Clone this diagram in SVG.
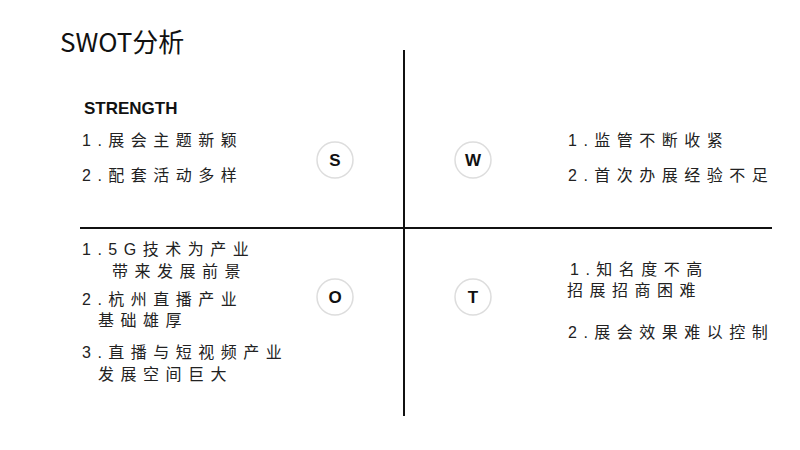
<svg xmlns="http://www.w3.org/2000/svg" width="800" height="450" viewBox="0 0 800 450">
<style>
.t{font-family:"Liberation Sans","Noto Sans CJK SC",sans-serif;font-size:16px;fill:#222;letter-spacing:6.5px}
.c{fill:#fff;stroke:#ddd;stroke-width:1.5}
.l{font-family:"Liberation Sans",sans-serif;font-size:17px;font-weight:bold;fill:#111;text-anchor:middle}
</style>
<rect width="800" height="450" fill="#fff"/>
<text x="60" y="52" font-family="'Noto Sans CJK SC',sans-serif" font-size="26" fill="#111">SWOT分析</text>
<g id="connectors" stroke="#111" stroke-width="2">
<line x1="404" y1="50" x2="404" y2="416"/>
<line x1="80" y1="228" x2="772" y2="228"/>
</g>
<g id="S"><text x="84" y="114" font-family="'Liberation Sans',sans-serif" font-size="17" font-weight="bold" fill="#111">STRENGTH</text>
<text class="t" x="82" y="146">1.展会主题新颖</text><text class="t" x="82" y="181">2.配套活动多样</text>
<circle class="c" cx="335" cy="160" r="18"/><text class="l" x="335" y="166">S</text></g>
<g id="W"><text class="t" x="568" y="146">1.监管不断收紧</text><text class="t" x="568" y="181">2.首次办展经验不足</text>
<circle class="c" cx="473" cy="160" r="18"/><text class="l" x="473" y="166">W</text></g>
<g id="O"><text class="t" x="82" y="255">1.5G技术为产业</text><text class="t" x="112" y="277">带来发展前景</text>
<text class="t" x="82" y="305">2.杭州直播产业</text><text class="t" x="98" y="326">基础雄厚</text>
<text class="t" x="82" y="358">3.直播与短视频产业</text><text class="t" x="98" y="380">发展空间巨大</text>
<circle class="c" cx="335" cy="297" r="18"/><text class="l" x="335" y="303">O</text></g>
<g id="T"><text class="t" x="570" y="275">1.知名度不高</text><text class="t" x="567" y="296">招展招商困难</text>
<text class="t" x="568" y="338">2.展会效果难以控制</text>
<circle class="c" cx="473" cy="297" r="18"/><text class="l" x="473" y="303">T</text></g>
</svg>
